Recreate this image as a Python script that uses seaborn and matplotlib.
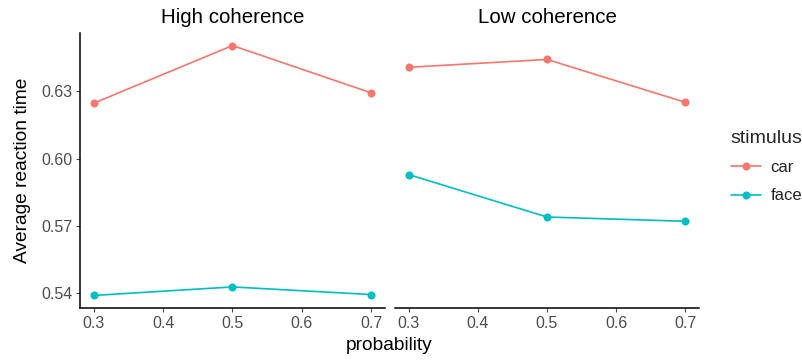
import matplotlib
matplotlib.use("Agg")
import matplotlib.pyplot as plt
import seaborn as sns
import pandas as pd
from matplotlib.lines import Line2D

sns.set_theme(style="white")
plt.rcParams['font.family'] = ['Liberation Sans', 'DejaVu Sans']

probability = [0.3, 0.5, 0.7]
panels = ["High coherence", "Low coherence"]
stimuli = ["car", "face"]
high_car = [0.6248, 0.6505, 0.6294]
high_face = [0.5390, 0.5428, 0.5394]
low_car = [0.6408, 0.6443, 0.6252]
low_face = [0.5929, 0.5740, 0.5721]
colors = {"car": "#F8766D", "face": "#00BFC4"}
x_ticks = [0.3, 0.4, 0.5, 0.6, 0.7]
y_ticks = [0.54, 0.57, 0.60, 0.63]

rows = []
for panel, series in zip(panels, [(high_car, high_face), (low_car, low_face)]):
    for stim, vals in zip(stimuli, series):
        for p, v in zip(probability, vals):
            rows.append({"coherence": panel, "stimulus": stim, "probability": p, "rt": v})
df = pd.DataFrame(rows)

fig = plt.figure(figsize=(8.03, 3.63), dpi=100)
bottom, top = 1 - 308/363, 1 - 33/363
ax1 = fig.add_axes([80/803, bottom, (385-80)/803, top - bottom])
ax2 = fig.add_axes([395/803, bottom, (699-395)/803, top - bottom], sharey=ax1)

tick_col = "#4D4D4D"
ms = 5.8
lw = 1.2
for ax, panel in zip([ax1, ax2], panels):
    sub = df[df.coherence == panel]
    sns.lineplot(data=sub, x="probability", y="rt", hue="stimulus", palette=colors,
                 marker="o", markersize=ms, markeredgewidth=0, linewidth=lw,
                 ax=ax, legend=False, hue_order=stimuli)
    ax.set_xlim(0.28, 0.72)
    ax.set_ylim(0.5334, 0.6561)
    ax.set_xticks(x_ticks)
    ax.set_xticklabels([f"{t:.1f}" for t in x_ticks])
    ax.set_title(panel, fontsize=14.8, color="black", pad=7)
    ax.set_xlabel("")
    ax.set_ylabel("")
    for s in ["top", "right"]:
        ax.spines[s].set_visible(False)
    ax.spines["bottom"].set_color("black")
    ax.spines["bottom"].set_linewidth(1.1)
    ax.tick_params(axis="both", colors=tick_col, labelsize=11.5, length=3, width=0.8,
                   direction="out", pad=2.5, left=True, bottom=True)
    ax.tick_params(axis="both", labelcolor=tick_col)

ax1.spines["left"].set_color("black")
ax1.spines["left"].set_linewidth(1.1)
ax1.set_yticks(y_ticks)
ax1.set_yticklabels([f"{t:.2f}" for t in y_ticks])
ax2.spines["left"].set_visible(False)
ax2.tick_params(axis="y", left=False, labelleft=False)

ax1.set_ylabel("Average reaction time", fontsize=13.8, color="black", labelpad=7)
fig.text((80 + 699) / 2 / 803, 1 - 345/363, "probability", ha="center", va="center",
         fontsize=13.8, color="black")

handles = [Line2D([0], [0], color=colors[s], marker="o", markersize=ms, markeredgewidth=0,
                  linewidth=lw) for s in stimuli]
leg = fig.legend(handles, stimuli, title="stimulus", loc="upper left",
                 bbox_to_anchor=(724/803, 1 - 123/363), frameon=False, fontsize=12,
                 title_fontsize=14, handlelength=1.8, labelspacing=0.8,
                 handletextpad=0.6, borderaxespad=0)
leg._legend_box.align = "left"

fig.savefig("out.png", dpi=100)
